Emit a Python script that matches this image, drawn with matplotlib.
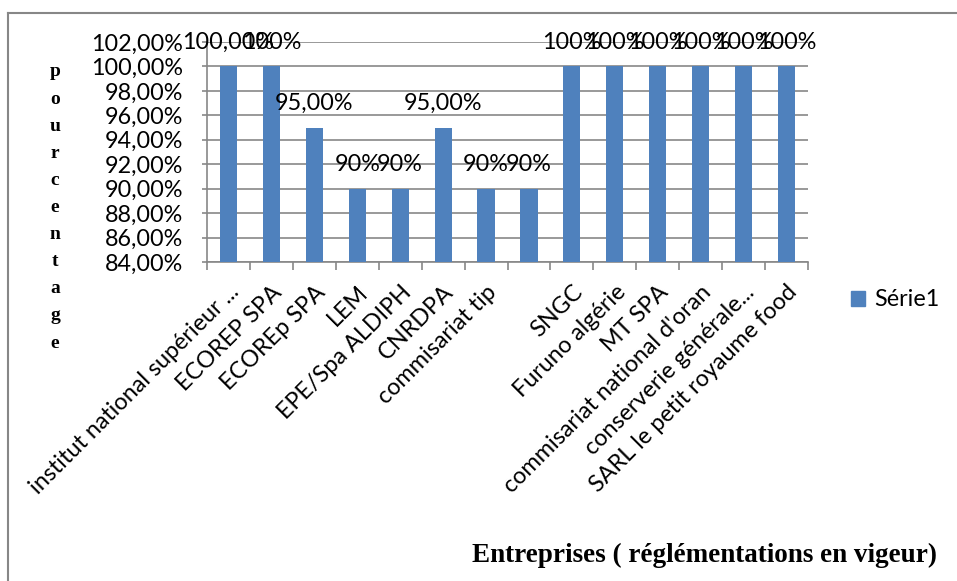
import numpy as np
import matplotlib
matplotlib.use("Agg")
from matplotlib import pyplot as plt
from matplotlib.patches import Patch

categories = ["institut national supérieur ...", "ECOREP SPA", "ECOREp SPA", "LEM",
              "EPE/Spa ALDIPH", "CNRDPA", "commisariat tip", "", "SNGC",
              "Furuno algérie", "MT SPA", "commisariat national d'oran",
              "conserverie générale...", "SARL le petit royaume food"]
values = [100, 100, 95, 90, 90, 95, 90, 90, 100, 100, 100, 100, 100, 100]
value_labels = ["100,00%", "100%", "95,00%", "90%", "90%", "95,00%", "90%", "90%",
                "100%", "100%", "100%", "100%", "100%", "100%"]
yticks = np.arange(84, 103, 2)

W, H = 957, 581
fig = plt.figure(figsize=(W / 100, H / 100), dpi=100)
ax = fig.add_axes([207 / W, 1 - 262 / H, (808 - 207) / W, (262 - 42) / H])

grey = "#878787"
blue = "#4F81BD"
tick_font = "Lato"
fs = 16.8

x = np.arange(len(categories))
ax.bar(x, values, width=0.4, color=blue, zorder=3)
ax.set_xlim(-0.5, len(categories) - 0.5)
ax.set_ylim(84, 102)

ax.set_yticks(yticks)
ax.set_yticklabels(["%d,00%%" % v for v in yticks], fontsize=fs, family=tick_font)
ax.yaxis.grid(True, color=grey, linewidth=1.2, zorder=0)
ax.tick_params(axis="y", length=3.6, width=1.2, color=grey, pad=13.5)

ax.set_xticks(x)
ax.set_xticklabels(categories, rotation=45, ha="right", rotation_mode="anchor",
                   fontsize=fs, family=tick_font)
ax.set_xticks(np.arange(len(categories) + 1) - 0.5, minor=True)
ax.tick_params(axis="x", which="major", length=0, pad=14)
ax.tick_params(axis="x", which="minor", length=6, width=1.2, color=grey)

for s in ["top", "right"]:
    ax.spines[s].set_visible(False)
for s in ["left", "bottom"]:
    ax.spines[s].set_color(grey)
    ax.spines[s].set_linewidth(1.2)

for xi, v, lab in zip(x, values, value_labels):
    ax.annotate(lab, (xi, v), xytext=(0, 17.5), textcoords="offset points",
                ha="center", va="center", fontsize=fs, family=tick_font, zorder=5)

# vertical y-axis title, one letter per line
for i, ch in enumerate("pourcentage"):
    fig.text(55 / W, 1 - (72 + i * 27.1) / H, ch, ha="center", va="center",
             family="Liberation Serif", fontweight="bold", fontsize=14)

fig.text(704 / W, 1 - 555 / H, "Entreprises ( réglémentations en vigeur)",
         ha="center", va="center", family="Liberation Serif", fontweight="bold",
         fontsize=19.5)

fig.legend(handles=[Patch(color=blue, label="Série1")], loc="center left",
           bbox_to_anchor=(851 / W, 1 - 300 / H), frameon=False, borderpad=0,
           borderaxespad=0, prop={"family": tick_font, "size": fs},
           handlelength=0.6, handleheight=0.6, handletextpad=0.4)

# outer chart border (left and top only visible)
fig.add_artist(plt.Line2D([8 / W, 8 / W], [0, 1 - 13 / H], color=grey, linewidth=1.5,
                          transform=fig.transFigure))
fig.add_artist(plt.Line2D([8 / W, 956 / W], [1 - 13 / H, 1 - 13 / H], color=grey,
                          linewidth=1.5, transform=fig.transFigure))

fig.savefig("out.png", dpi=100)
